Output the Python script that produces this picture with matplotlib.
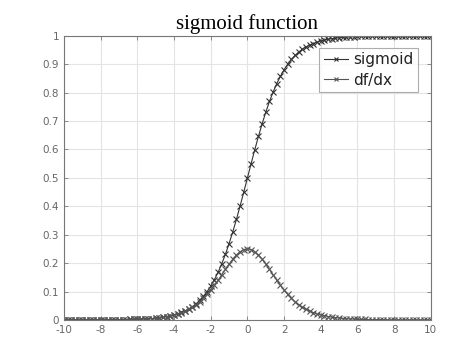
import matplotlib.pyplot as plt

plt.rcParams['axes.unicode_minus'] = False

# sample points (step 0.2 from -10 to 10)
x_vals = [round(-10 + 0.2 * i, 1) for i in range(101)]

sig_pos = [0.500, 0.550, 0.599, 0.646, 0.690, 0.731, 0.769, 0.802, 0.832, 0.858,
           0.881, 0.900, 0.917, 0.931, 0.943, 0.953, 0.961, 0.968, 0.973, 0.978,
           0.982, 0.985, 0.988, 0.990, 0.992, 0.993, 0.995, 0.996, 0.996, 0.997,
           0.998, 0.998, 0.998, 0.999, 0.999, 0.999, 0.999, 0.999, 1.000, 1.000,
           1.000, 1.000, 1.000, 1.000, 1.000, 1.000, 1.000, 1.000, 1.000, 1.000,
           1.000]
sig_neg = [0.000, 0.000, 0.000, 0.000, 0.000, 0.000, 0.000, 0.000, 0.000, 0.000,
           0.000, 0.000, 0.000, 0.001, 0.001, 0.001, 0.001, 0.001, 0.002, 0.002,
           0.002, 0.003, 0.004, 0.004, 0.005, 0.007, 0.008, 0.010, 0.012, 0.015,
           0.018, 0.022, 0.027, 0.032, 0.039, 0.047, 0.057, 0.069, 0.083, 0.100,
           0.119, 0.142, 0.168, 0.198, 0.231, 0.269, 0.310, 0.354, 0.401, 0.450]
sigmoid = sig_neg + sig_pos

d_pos = [0.250, 0.248, 0.240, 0.229, 0.214, 0.197, 0.178, 0.159, 0.140, 0.122,
         0.105, 0.090, 0.076, 0.064, 0.054, 0.045, 0.038, 0.031, 0.026, 0.021,
         0.018, 0.015, 0.012, 0.010, 0.008, 0.007, 0.005, 0.004, 0.004, 0.003,
         0.002, 0.002, 0.002, 0.001, 0.001, 0.001, 0.001, 0.001, 0.000, 0.000,
         0.000, 0.000, 0.000, 0.000, 0.000, 0.000, 0.000, 0.000, 0.000, 0.000,
         0.000]
dfdx = d_pos[:0:-1] + d_pos

x_ticks = [-10, -8, -6, -4, -2, 0, 2, 4, 6, 8, 10]
y_ticks = [0, 0.1, 0.2, 0.3, 0.4, 0.5, 0.6, 0.7, 0.8, 0.9, 1]
y_labels = ['0', '0.1', '0.2', '0.3', '0.4', '0.5', '0.6', '0.7', '0.8', '0.9', '1']

fig = plt.figure(figsize=(4.74, 3.53), dpi=100)
ax = fig.add_axes([0.135, 0.0935, 0.774, 0.805])

ax.plot(x_vals, sigmoid, color='#333333', lw=0.8, marker='x', ms=4, mew=0.8, label='sigmoid')
ax.plot(x_vals, dfdx, color='#555555', lw=0.8, marker='x', ms=4, mew=0.8, label='df/dx')

ax.set_xlim(-10, 10)
ax.set_ylim(0, 1)
ax.set_xticks(x_ticks)
ax.set_yticks(y_ticks)
ax.set_yticklabels(y_labels)
ax.grid(True, color='#e4e4e4', lw=0.8)
ax.tick_params(direction='in', top=True, right=True, length=3, width=0.7,
               colors='#888888', labelcolor='#666666', labelsize=7.5)
for s in ax.spines.values():
    s.set_color('#777777')
    s.set_linewidth(0.8)

leg = ax.legend(loc='upper right', bbox_to_anchor=(0.985, 0.985), fontsize=11,
                frameon=True, fancybox=False, handlelength=1.6, borderpad=0.3,
                labelspacing=0.35, handletextpad=0.3, markerscale=0.8)
leg.get_frame().set_edgecolor('#999999')
leg.get_frame().set_linewidth(0.8)
for t in leg.get_texts():
    t.set_color('#222222')

ax.set_title('sigmoid function', family='Liberation Serif', fontsize=15, pad=5)

fig.savefig('out.png', dpi=100)
